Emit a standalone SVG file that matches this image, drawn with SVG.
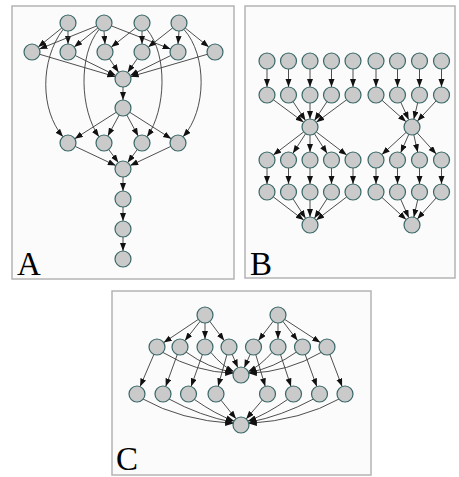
<svg xmlns="http://www.w3.org/2000/svg" width="459" height="477" viewBox="0 0 459 477">
<style>
.panel{fill:#fbfbfb;stroke:#b4b4b4;stroke-width:1.5}
.n circle{fill:#cacaca;stroke:#3a6868;stroke-width:1.2}
.e path,.e line{fill:none;stroke:#3a3a3a;stroke-width:0.9;marker-end:url(#ah)}
.lbl{font-family:"Liberation Serif","DejaVu Serif",serif;font-size:33px;fill:#000}
</style>
<defs>
<marker id="ah" markerUnits="userSpaceOnUse" markerWidth="9" markerHeight="7" refX="8" refY="3" orient="auto">
<path d="M0,0 L8,3 L0,6 z" fill="#111"/>
</marker>
</defs>
<rect class="panel" x="12" y="6" width="222" height="273"/>
<rect class="panel" x="245" y="6" width="210" height="272"/>
<rect class="panel" x="112" y="291" width="259" height="184"/>
<text class="lbl" x="17" y="275">A</text>
<text class="lbl" x="250" y="275">B</text>
<text class="lbl" x="116" y="470">C</text>

<g id="edges" class="e">
<!-- A -->
<line x1="61.8" y1="28" x2="38.2" y2="47"/>
<line x1="68" y1="31" x2="68" y2="44"/>
<line x1="96.6" y1="26" x2="39.4" y2="49"/>
<line x1="97.8" y1="28" x2="74.2" y2="47"/>
<line x1="104" y1="31" x2="105" y2="44"/>
<line x1="111.4" y1="25.9" x2="170.6" y2="49.1"/>
<line x1="135.7" y1="27.9" x2="111.3" y2="47.1"/>
<line x1="142" y1="31" x2="142" y2="44"/>
<line x1="172.7" y1="27.9" x2="148.3" y2="47.1"/>
<line x1="179" y1="31" x2="178" y2="44"/>
<line x1="185.2" y1="28" x2="208.8" y2="47"/>
<line x1="39.7" y1="54.3" x2="115.3" y2="76.7"/>
<line x1="75.2" y1="55.5" x2="115.8" y2="75.5"/>
<line x1="109.4" y1="58.7" x2="118.6" y2="72.3"/>
<line x1="137.4" y1="58.5" x2="127.6" y2="72.5"/>
<line x1="170.8" y1="55.5" x2="130.2" y2="75.5"/>
<line x1="207.3" y1="54.3" x2="130.7" y2="76.7"/>
<line x1="123" y1="87" x2="123" y2="100"/>
<line x1="116.2" y1="112.3" x2="74.8" y2="138.7"/>
<line x1="119.2" y1="115" x2="107.8" y2="136"/>
<line x1="126.8" y1="115" x2="138.2" y2="136"/>
<line x1="129.8" y1="112.3" x2="171.2" y2="138.7"/>
<line x1="75.2" y1="146.4" x2="115.8" y2="165.6"/>
<line x1="108.7" y1="149.5" x2="118.3" y2="162.5"/>
<line x1="137.3" y1="149.5" x2="127.7" y2="162.5"/>
<line x1="170.8" y1="146.4" x2="130.2" y2="165.6"/>
<line x1="123" y1="177" x2="123" y2="191"/>
<line x1="123" y1="207" x2="123" y2="221"/>
<line x1="123" y1="237" x2="123" y2="251"/>
<path d="M63,29.5 C40,60 40,110 63,136.8"/>
<path d="M99,29.5 C78,55 80,110 99,136.8"/>
<path d="M147,29.5 C168,55 166,110 147,136.8"/>
<path d="M184,29.5 C207,55 207,110 183,136.8"/>
<!-- B -->
<line x1="267" y1="69" x2="267" y2="87"/>
<line x1="288.5" y1="69" x2="288.5" y2="87"/>
<line x1="310" y1="69" x2="310" y2="87"/>
<line x1="331.5" y1="69" x2="331.5" y2="87"/>
<line x1="353" y1="69" x2="353" y2="87"/>
<line x1="376" y1="69" x2="376" y2="87"/>
<line x1="397.5" y1="69" x2="397.5" y2="87"/>
<line x1="419.5" y1="69" x2="419.5" y2="87"/>
<line x1="441.5" y1="69" x2="441.5" y2="87"/>
<line x1="273.4" y1="99.8" x2="303.6" y2="122.2"/>
<line x1="293" y1="101.6" x2="305.5" y2="120.4"/>
<line x1="310" y1="103" x2="310" y2="119"/>
<line x1="327" y1="101.6" x2="314.5" y2="120.4"/>
<line x1="346.6" y1="99.8" x2="316.4" y2="122.2"/>
<line x1="382" y1="100.3" x2="406" y2="121.7"/>
<line x1="400.8" y1="102.3" x2="408.7" y2="119.7"/>
<line x1="417.7" y1="102.8" x2="413.8" y2="119.2"/>
<line x1="436.1" y1="100.9" x2="417.4" y2="121.1"/>
<line x1="303.7" y1="131.9" x2="273.3" y2="155.1"/>
<line x1="305.6" y1="133.7" x2="292.9" y2="153.3"/>
<line x1="310" y1="135" x2="310" y2="152"/>
<line x1="314.4" y1="133.7" x2="327.1" y2="153.3"/>
<line x1="316.3" y1="131.9" x2="346.7" y2="155.1"/>
<line x1="406.1" y1="132.4" x2="381.9" y2="154.6"/>
<line x1="408.8" y1="134.3" x2="400.7" y2="152.7"/>
<line x1="413.8" y1="134.8" x2="417.7" y2="152.2"/>
<line x1="417.3" y1="133" x2="436.2" y2="154"/>
<line x1="267" y1="168" x2="267" y2="184"/>
<line x1="288.5" y1="168" x2="288.5" y2="184"/>
<line x1="310" y1="168" x2="310" y2="184"/>
<line x1="331.5" y1="168" x2="331.5" y2="184"/>
<line x1="353" y1="168" x2="353" y2="184"/>
<line x1="376" y1="168" x2="376" y2="184"/>
<line x1="397.5" y1="168" x2="397.5" y2="184"/>
<line x1="419.5" y1="168" x2="419.5" y2="184"/>
<line x1="441.5" y1="168" x2="441.5" y2="184"/>
<line x1="273.3" y1="196.9" x2="303.7" y2="220.1"/>
<line x1="292.9" y1="198.7" x2="305.6" y2="218.3"/>
<line x1="310" y1="200" x2="310" y2="217"/>
<line x1="327.1" y1="198.7" x2="314.4" y2="218.3"/>
<line x1="346.7" y1="196.9" x2="316.3" y2="220.1"/>
<line x1="381.9" y1="197.4" x2="406.1" y2="219.6"/>
<line x1="400.7" y1="199.3" x2="408.8" y2="217.7"/>
<line x1="417.7" y1="199.8" x2="413.8" y2="217.2"/>
<line x1="436.2" y1="197.9" x2="417.3" y2="219"/>
<!-- C -->
<line x1="198.3" y1="319.4" x2="163.7" y2="342.6"/>
<line x1="200.1" y1="321.3" x2="184.9" y2="340.7"/>
<line x1="205" y1="323" x2="205" y2="339"/>
<line x1="209.8" y1="321.4" x2="224.2" y2="340.6"/>
<line x1="273.1" y1="321.4" x2="258.4" y2="340.6"/>
<line x1="278" y1="323" x2="278" y2="339"/>
<line x1="282.9" y1="321.4" x2="297.6" y2="340.6"/>
<line x1="284.7" y1="319.4" x2="320.3" y2="342.6"/>
<line x1="153.9" y1="354.4" x2="140.1" y2="386.6"/>
<line x1="177.3" y1="354.5" x2="165.7" y2="386.5"/>
<line x1="202.4" y1="354.6" x2="191.1" y2="386.4"/>
<line x1="226.9" y1="354.7" x2="218.1" y2="386.3"/>
<line x1="255.8" y1="354.7" x2="265.2" y2="386.3"/>
<line x1="280.5" y1="354.6" x2="291" y2="386.4"/>
<line x1="305.2" y1="354.5" x2="316.8" y2="386.5"/>
<line x1="329.9" y1="354.5" x2="342.1" y2="386.5"/>
<path d="M163,352.5 Q195,372 233.2,373.3"/>
<path d="M186,352 Q208,368 233.3,372.5"/>
<path d="M211,352.5 Q222,366 233.8,371.6"/>
<line x1="232.2" y1="354.4" x2="237.8" y2="367.6"/>
<line x1="250.2" y1="354.3" x2="244.3" y2="367.7"/>
<path d="M272,352.5 Q260,366 248.2,371.6"/>
<path d="M296.5,352 Q274,368 248.7,372.5"/>
<path d="M321,352.5 Q288,372 248.8,373.3"/>
<path d="M143,399 Q180,420 233.2,423.5"/>
<path d="M169,399 Q200,416 233.4,422.4"/>
<path d="M194.5,399.5 Q215,414 234,421"/>
<line x1="221" y1="400.2" x2="236" y2="418.8"/>
<line x1="262.3" y1="400.1" x2="246.2" y2="418.9"/>
<path d="M287.5,399.5 Q267,414 248,421"/>
<path d="M313.5,399 Q282,416 248.6,422.4"/>
<path d="M339,399 Q302,420 248.8,423.5"/>
</g>

<g class="n">
<g id="A_a1"><circle cx="68" cy="23" r="8"/></g>
<g id="A_a2"><circle cx="104" cy="23" r="8"/></g>
<g id="A_a3"><circle cx="142" cy="23" r="8"/></g>
<g id="A_a4"><circle cx="179" cy="23" r="8"/></g>
<g id="A_b1"><circle cx="32" cy="52" r="8"/></g>
<g id="A_b2"><circle cx="68" cy="52" r="8"/></g>
<g id="A_b3"><circle cx="105" cy="52" r="8"/></g>
<g id="A_b4"><circle cx="142" cy="52" r="8"/></g>
<g id="A_b5"><circle cx="178" cy="52" r="8"/></g>
<g id="A_b6"><circle cx="215" cy="52" r="8"/></g>
<g id="A_c"><circle cx="123" cy="79" r="8"/></g>
<g id="A_d"><circle cx="123" cy="108" r="8"/></g>
<g id="A_e1"><circle cx="68" cy="143" r="8"/></g>
<g id="A_e2"><circle cx="104" cy="143" r="8"/></g>
<g id="A_e3"><circle cx="142" cy="143" r="8"/></g>
<g id="A_e4"><circle cx="178" cy="143" r="8"/></g>
<g id="A_f"><circle cx="123" cy="169" r="8"/></g>
<g id="A_g"><circle cx="123" cy="199" r="8"/></g>
<g id="A_h"><circle cx="123" cy="229" r="8"/></g>
<g id="A_i"><circle cx="123" cy="259" r="8"/></g>

<g id="B_r1_1"><circle cx="267" cy="61" r="8"/></g>
<g id="B_r1_2"><circle cx="288.5" cy="61" r="8"/></g>
<g id="B_r1_3"><circle cx="310" cy="61" r="8"/></g>
<g id="B_r1_4"><circle cx="331.5" cy="61" r="8"/></g>
<g id="B_r1_5"><circle cx="353" cy="61" r="8"/></g>
<g id="B_r1_6"><circle cx="376" cy="61" r="8"/></g>
<g id="B_r1_7"><circle cx="397.5" cy="61" r="8"/></g>
<g id="B_r1_8"><circle cx="419.5" cy="61" r="8"/></g>
<g id="B_r1_9"><circle cx="441.5" cy="61" r="8"/></g>
<g id="B_r2_1"><circle cx="267" cy="95" r="8"/></g>
<g id="B_r2_2"><circle cx="288.5" cy="95" r="8"/></g>
<g id="B_r2_3"><circle cx="310" cy="95" r="8"/></g>
<g id="B_r2_4"><circle cx="331.5" cy="95" r="8"/></g>
<g id="B_r2_5"><circle cx="353" cy="95" r="8"/></g>
<g id="B_r2_6"><circle cx="376" cy="95" r="8"/></g>
<g id="B_r2_7"><circle cx="397.5" cy="95" r="8"/></g>
<g id="B_r2_8"><circle cx="419.5" cy="95" r="8"/></g>
<g id="B_r2_9"><circle cx="441.5" cy="95" r="8"/></g>
<g id="B_h1"><circle cx="310" cy="127" r="8"/></g>
<g id="B_h2"><circle cx="412" cy="127" r="8"/></g>
<g id="B_r3_1"><circle cx="267" cy="160" r="8"/></g>
<g id="B_r3_2"><circle cx="288.5" cy="160" r="8"/></g>
<g id="B_r3_3"><circle cx="310" cy="160" r="8"/></g>
<g id="B_r3_4"><circle cx="331.5" cy="160" r="8"/></g>
<g id="B_r3_5"><circle cx="353" cy="160" r="8"/></g>
<g id="B_r3_6"><circle cx="376" cy="160" r="8"/></g>
<g id="B_r3_7"><circle cx="397.5" cy="160" r="8"/></g>
<g id="B_r3_8"><circle cx="419.5" cy="160" r="8"/></g>
<g id="B_r3_9"><circle cx="441.5" cy="160" r="8"/></g>
<g id="B_r4_1"><circle cx="267" cy="192" r="8"/></g>
<g id="B_r4_2"><circle cx="288.5" cy="192" r="8"/></g>
<g id="B_r4_3"><circle cx="310" cy="192" r="8"/></g>
<g id="B_r4_4"><circle cx="331.5" cy="192" r="8"/></g>
<g id="B_r4_5"><circle cx="353" cy="192" r="8"/></g>
<g id="B_r4_6"><circle cx="376" cy="192" r="8"/></g>
<g id="B_r4_7"><circle cx="397.5" cy="192" r="8"/></g>
<g id="B_r4_8"><circle cx="419.5" cy="192" r="8"/></g>
<g id="B_r4_9"><circle cx="441.5" cy="192" r="8"/></g>
<g id="B_s1"><circle cx="310" cy="225" r="8"/></g>
<g id="B_s2"><circle cx="412" cy="225" r="8"/></g>

<g id="C_t1"><circle cx="205" cy="315" r="8"/></g>
<g id="C_t2"><circle cx="278" cy="315" r="8"/></g>
<g id="C_n1"><circle cx="157" cy="347" r="8"/></g>
<g id="C_n2"><circle cx="180" cy="347" r="8"/></g>
<g id="C_n3"><circle cx="205" cy="347" r="8"/></g>
<g id="C_n4"><circle cx="229" cy="347" r="8"/></g>
<g id="C_n5"><circle cx="253.5" cy="347" r="8"/></g>
<g id="C_n6"><circle cx="278" cy="347" r="8"/></g>
<g id="C_n7"><circle cx="302.5" cy="347" r="8"/></g>
<g id="C_n8"><circle cx="327" cy="347" r="8"/></g>
<g id="C_hub"><circle cx="241" cy="375" r="8"/></g>
<g id="C_m1"><circle cx="137" cy="394" r="8"/></g>
<g id="C_m2"><circle cx="163" cy="394" r="8"/></g>
<g id="C_m3"><circle cx="188.5" cy="394" r="8"/></g>
<g id="C_m4"><circle cx="216" cy="394" r="8"/></g>
<g id="C_m5"><circle cx="267.5" cy="394" r="8"/></g>
<g id="C_m6"><circle cx="293.5" cy="394" r="8"/></g>
<g id="C_m7"><circle cx="319.5" cy="394" r="8"/></g>
<g id="C_m8"><circle cx="345" cy="394" r="8"/></g>
<g id="C_sink"><circle cx="241" cy="425" r="8"/></g>
</g>
</svg>
